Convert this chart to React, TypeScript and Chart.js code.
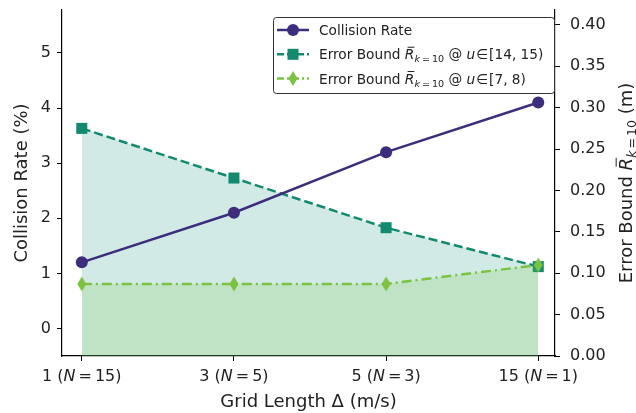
import React, { useEffect, useRef } from 'react';
import { Chart, registerables } from 'chart.js';
Chart.register(...registerables);

const gridLengths = ['1', '3', '5', '15'];
const nValues = ['15', '5', '3', '1'];
const collisionRate = [1.2, 2.1, 3.2, 4.1];
const boundHigh = [0.275, 0.215, 0.155, 0.108];
const boundLow = [0.087, 0.087, 0.087, 0.11];
const leftTicks = [0, 1, 2, 3, 4, 5];
const rightTicks = [0, 0.05, 0.1, 0.15, 0.2, 0.25, 0.3, 0.35, 0.4];

const PURPLE = '#3e2d7d';
const TEAL = '#138a6f';
const GREEN = '#7cc242';
const FONT = '"DejaVu Sans", sans-serif';
const TXT = '#222';

type Seg = { t: string; it?: boolean; sub?: boolean; bar?: boolean; pad?: number };

function setFont(ctx: CanvasRenderingContext2D, s: Seg, size: number) {
  const sz = s.sub ? size * 0.7 : size;
  ctx.font = `${s.it ? 'italic ' : ''}${sz}px ${FONT}`;
}
function segWidth(ctx: CanvasRenderingContext2D, s: Seg, size: number) {
  setFont(ctx, s, size);
  return ctx.measureText(s.t).width + 2 * (s.pad || 0);
}
function measureRich(ctx: CanvasRenderingContext2D, segs: Seg[], size: number) {
  let w = 0;
  for (const s of segs) w += segWidth(ctx, s, size);
  return w;
}
function drawRich(ctx: CanvasRenderingContext2D, segs: Seg[], x: number, y: number, size: number, color: string) {
  ctx.fillStyle = color;
  ctx.strokeStyle = color;
  ctx.textAlign = 'left';
  ctx.textBaseline = 'alphabetic';
  let cx = x;
  for (const s of segs) {
    const w = segWidth(ctx, s, size);
    const p = s.pad || 0;
    const yy = s.sub ? y + size * 0.22 : y;
    ctx.fillText(s.t, cx + p, yy);
    if (s.bar) {
      ctx.lineWidth = 1;
      ctx.beginPath();
      ctx.moveTo(cx + size * 0.2, y - size * 0.88);
      ctx.lineTo(cx + w, y - size * 0.88);
      ctx.stroke();
    }
    cx += w;
  }
}

function makeDiamond(color: string) {
  const c = document.createElement('canvas');
  c.width = 10;
  c.height = 16;
  const g = c.getContext('2d')!;
  g.fillStyle = color;
  g.beginPath();
  g.moveTo(5, 0.5);
  g.lineTo(9.5, 8);
  g.lineTo(5, 15.5);
  g.lineTo(0.5, 8);
  g.closePath();
  g.fill();
  return c;
}

const subK = (): Seg[] => [
  { t: 'R', it: true, bar: true },
  { t: 'k', it: true, sub: true },
  { t: '=', sub: true, pad: 2 },
  { t: '10', sub: true },
];

const legendItems = [
  { color: PURPLE, dash: [] as number[], marker: 'circle', label: [{ t: 'Collision Rate' }] as Seg[] },
  {
    color: TEAL, dash: [7, 3], marker: 'square',
    label: [{ t: 'Error Bound ' }, ...subK(), { t: ' @ ' }, { t: 'u', it: true }, { t: '∈', pad: 1 }, { t: '[14, 15)' }] as Seg[],
  },
  {
    color: GREEN, dash: [7, 3, 2, 3], marker: 'diamond',
    label: [{ t: 'Error Bound ' }, ...subK(), { t: ' @ ' }, { t: 'u', it: true }, { t: '∈', pad: 1 }, { t: '[7, 8)' }] as Seg[],
  },
];

const overlayPlugin = {
  id: 'overlay',
  afterDraw(chart: any) {
    const ctx: CanvasRenderingContext2D = chart.ctx;
    const ca = chart.chartArea;
    const xs = chart.scales.x;
    ctx.save();
    // x tick labels
    gridLengths.forEach((g, i) => {
      const segs: Seg[] = [{ t: `${g} (` }, { t: 'N', it: true }, { t: '=', pad: 3 }, { t: `${nValues[i]})` }];
      const w = measureRich(ctx, segs, 16);
      const px = xs.getPixelForValue(i);
      drawRich(ctx, segs, px - w / 2, ca.bottom + 25, 16, TXT);
    });
    // right axis title
    const rt: Seg[] = [{ t: 'Error Bound ' }, ...subK(), { t: ' (m)' }];
    const rw = measureRich(ctx, rt, 18);
    ctx.save();
    ctx.translate(ca.right + 77, (ca.top + ca.bottom) / 2);
    ctx.rotate(-Math.PI / 2);
    drawRich(ctx, rt, -rw / 2, 0, 18, TXT);
    ctx.restore();
    // legend
    const bx = ca.right - 282, by = ca.top + 7, bw = 281, bh = 76;
    ctx.fillStyle = 'rgba(255,255,255,0.85)';
    ctx.strokeStyle = '#333';
    ctx.lineWidth = 1;
    ctx.beginPath();
    (ctx as any).roundRect(bx + 0.5, by + 0.5, bw, bh, 3);
    ctx.fill();
    ctx.stroke();
    legendItems.forEach((it, k) => {
      const cy = by + 13 + k * 24.3;
      ctx.strokeStyle = it.color;
      ctx.lineWidth = 2.5;
      ctx.setLineDash(it.dash);
      ctx.beginPath();
      ctx.moveTo(bx + 4, cy);
      ctx.lineTo(bx + 36, cy);
      ctx.stroke();
      ctx.setLineDash([]);
      ctx.fillStyle = it.color;
      const mx = bx + 20;
      ctx.beginPath();
      if (it.marker === 'circle') ctx.arc(mx, cy, 6, 0, Math.PI * 2);
      else if (it.marker === 'square') ctx.rect(mx - 5.5, cy - 5.5, 11, 11);
      else { ctx.moveTo(mx, cy - 7.5); ctx.lineTo(mx + 4.5, cy); ctx.lineTo(mx, cy + 7.5); ctx.lineTo(mx - 4.5, cy); ctx.closePath(); }
      ctx.fill();
      drawRich(ctx, it.label, bx + 46, cy + 5, 13.7, TXT);
    });
    ctx.restore();
  },
};

export default function App() {
  const ref = useRef<HTMLCanvasElement>(null);
  useEffect(() => {
    const diamond = makeDiamond(GREEN);
    const axisCommon = {
      grid: { drawOnChartArea: false, drawTicks: true, tickLength: 5, tickColor: '#000', tickWidth: 1 },
      border: { display: true, color: '#000', width: 1.2 },
    };
    const fitY = (w: number) => (s: any) => {
      s.width = w;
      s.paddingTop = 0;
      s.paddingBottom = 0;
    };
    const chart = new Chart(ref.current!, {
      type: 'line',
      data: {
        datasets: [
          {
            label: 'Collision Rate',
            data: collisionRate.map((v, i) => ({ x: i, y: v })),
            yAxisID: 'y',
            borderColor: PURPLE,
            backgroundColor: PURPLE,
            borderWidth: 2.5,
            pointStyle: 'circle',
            pointRadius: 6,
            pointBackgroundColor: PURPLE,
            pointBorderWidth: 0,
            fill: false,
            order: 0,
          },
          {
            label: 'Error Bound [14,15)',
            data: boundHigh.map((v, i) => ({ x: i, y: v })),
            yAxisID: 'y1',
            borderColor: TEAL,
            backgroundColor: 'rgba(30,150,128,0.2)',
            borderWidth: 2.5,
            borderDash: [9, 4],
            pointStyle: 'rect',
            pointRadius: 7.8,
            pointBackgroundColor: TEAL,
            pointBorderWidth: 0,
            fill: 'origin',
            order: 2,
          },
          {
            label: 'Error Bound [7,8)',
            data: boundLow.map((v, i) => ({ x: i, y: v })),
            yAxisID: 'y1',
            borderColor: GREEN,
            backgroundColor: 'rgba(122,193,67,0.2)',
            borderWidth: 2.5,
            borderDash: [10, 4, 2, 4],
            pointStyle: diamond as any,
            pointRadius: 6,
            pointBackgroundColor: GREEN,
            pointBorderWidth: 0,
            fill: 'origin',
            order: 1,
          },
        ],
      },
      options: {
        responsive: false,
        animation: false,
        devicePixelRatio: 1,
        layout: { padding: { top: 10, left: 0, right: 0, bottom: 0 } },
        plugins: { legend: { display: false }, tooltip: { enabled: false } },
        scales: {
          x: {
            type: 'linear',
            position: 'bottom',
            min: -0.13,
            max: 3.11,
            afterBuildTicks: (s: any) => { s.ticks = gridLengths.map((_, i) => ({ value: i })); },
            afterFit: (s: any) => { s.height = 57; s.paddingLeft = 0; s.paddingRight = 0; },
            ticks: { display: false },
            ...axisCommon,
            title: { display: true, text: 'Grid Length Δ (m/s)', color: TXT, font: { family: FONT, size: 18 }, padding: { top: 0, bottom: 0 } },
          },
          y: {
            type: 'linear',
            position: 'left',
            min: -0.5,
            max: 5.78,
            afterBuildTicks: (s: any) => { s.ticks = leftTicks.map((v) => ({ value: v })); },
            afterFit: fitY(62),
            ticks: { color: TXT, font: { family: FONT, size: 16 }, padding: 6 },
            ...axisCommon,
            title: { display: true, text: 'Collision Rate (%)', color: TXT, font: { family: FONT, size: 18 }, padding: { top: 12, bottom: 0 } },
          },
          y1: {
            type: 'linear',
            position: 'right',
            min: 0,
            max: 0.418,
            afterBuildTicks: (s: any) => { s.ticks = rightTicks.map((v) => ({ value: v })); },
            afterFit: fitY(81),
            ticks: { color: TXT, font: { family: FONT, size: 16 }, padding: 10, callback: (v: any) => Number(v).toFixed(2) },
            ...axisCommon,
          },
        },
      } as any,
      plugins: [overlayPlugin],
    });
    return () => chart.destroy();
  }, []);
  return (
    <div style={{ position: 'absolute', left: 0, top: 0, width: 636, height: 413, background: '#fff' }}>
      <canvas ref={ref} width={636} height={413} />
    </div>
  );
}
